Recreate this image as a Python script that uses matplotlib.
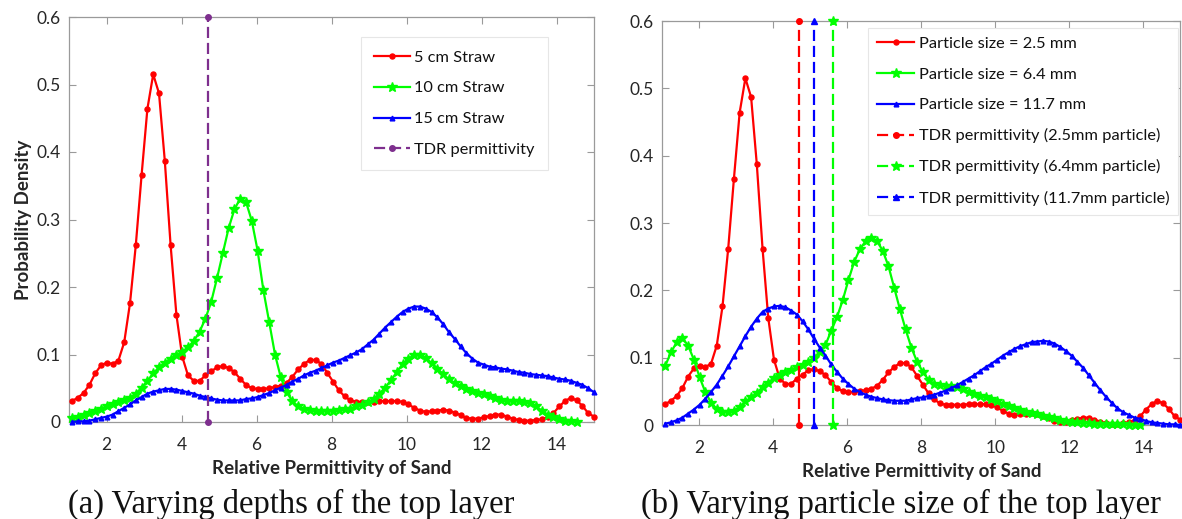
import numpy as np
import matplotlib
matplotlib.use("Agg")
import matplotlib.pyplot as plt

# ---------------- data ----------------
# sampling grid of relative permittivity (x axis), shared by all curves
perm = np.linspace(1.08, 15.0, 91)

# (a) varying depth of the straw top layer
pd_5cm = [0.031, 0.036, 0.043, 0.055, 0.072, 0.084, 0.088, 0.086, 0.091, 0.118,
          0.176, 0.262, 0.366, 0.464, 0.515, 0.487, 0.387, 0.262, 0.159, 0.097,
          0.069, 0.061, 0.061, 0.069, 0.075, 0.081, 0.083, 0.080, 0.074, 0.064,
          0.055, 0.050, 0.049, 0.049, 0.050, 0.052, 0.054, 0.058, 0.067, 0.078,
          0.086, 0.092, 0.092, 0.086, 0.073, 0.060, 0.047, 0.038, 0.032, 0.030,
          0.030, 0.030, 0.030, 0.031, 0.031, 0.031, 0.031, 0.030, 0.026, 0.021,
          0.017, 0.015, 0.016, 0.017, 0.018, 0.017, 0.014, 0.010, 0.006, 0.005,
          0.005, 0.007, 0.009, 0.011, 0.011, 0.008, 0.005, 0.003, 0.002, 0.002,
          0.003, 0.004, 0.007, 0.013, 0.023, 0.031, 0.036, 0.032, 0.024, 0.013,
          0.008]
pd_10cm = [0.006, 0.008, 0.011, 0.014, 0.017, 0.020, 0.023, 0.026, 0.029, 0.032,
           0.036, 0.042, 0.051, 0.061, 0.072, 0.081, 0.088, 0.094, 0.099, 0.104,
           0.111, 0.120, 0.134, 0.153, 0.178, 0.213, 0.250, 0.287, 0.315, 0.331,
           0.326, 0.298, 0.254, 0.195, 0.148, 0.100, 0.066, 0.044, 0.031, 0.023,
           0.019, 0.018, 0.017, 0.017, 0.017, 0.017, 0.018, 0.019, 0.020, 0.023,
           0.025, 0.029, 0.034, 0.042, 0.051, 0.062, 0.074, 0.086, 0.094, 0.099,
           0.099, 0.095, 0.087, 0.079, 0.071, 0.063, 0.058, 0.053, 0.049, 0.046,
           0.043, 0.041, 0.038, 0.035, 0.033, 0.031, 0.031, 0.031, 0.030, 0.028,
           0.023, 0.017, 0.011, 0.007, 0.004, 0.002, 0.001, 0.000]
pd_15cm = [0.000, 0.001, 0.001, 0.002, 0.004, 0.006, 0.008, 0.011, 0.016, 0.021,
           0.026, 0.032, 0.037, 0.042, 0.045, 0.047, 0.049, 0.049, 0.048, 0.046,
           0.044, 0.042, 0.039, 0.037, 0.035, 0.033, 0.032, 0.032, 0.032, 0.032,
           0.034, 0.035, 0.037, 0.040, 0.043, 0.047, 0.051, 0.055, 0.060, 0.064,
           0.069, 0.073, 0.076, 0.080, 0.084, 0.088, 0.091, 0.095, 0.099, 0.103,
           0.108, 0.115, 0.122, 0.131, 0.140, 0.148, 0.156, 0.163, 0.168, 0.171,
           0.171, 0.168, 0.163, 0.155, 0.145, 0.133, 0.123, 0.112, 0.102, 0.094,
           0.088, 0.085, 0.082, 0.081, 0.079, 0.078, 0.076, 0.074, 0.073, 0.071,
           0.070, 0.069, 0.068, 0.066, 0.064, 0.063, 0.061, 0.058, 0.055, 0.050,
           0.044]
tdr_a = 4.7

# (b) varying particle size of the top layer
pd_2p5mm = [0.031, 0.036, 0.043, 0.055, 0.072, 0.084, 0.088, 0.086, 0.091, 0.118,
            0.176, 0.262, 0.366, 0.464, 0.515, 0.487, 0.387, 0.262, 0.159, 0.097,
            0.069, 0.061, 0.061, 0.069, 0.075, 0.081, 0.083, 0.080, 0.074, 0.064,
            0.055, 0.050, 0.049, 0.049, 0.050, 0.052, 0.054, 0.058, 0.067, 0.078,
            0.086, 0.092, 0.092, 0.086, 0.073, 0.060, 0.047, 0.038, 0.032, 0.030,
            0.030, 0.030, 0.030, 0.031, 0.031, 0.031, 0.031, 0.030, 0.026, 0.021,
            0.017, 0.015, 0.016, 0.017, 0.018, 0.017, 0.014, 0.010, 0.006, 0.005,
            0.005, 0.007, 0.009, 0.011, 0.011, 0.008, 0.005, 0.003, 0.002, 0.002,
            0.003, 0.004, 0.007, 0.013, 0.023, 0.031, 0.036, 0.032, 0.024, 0.013,
            0.008]
pd_6p4mm = [0.088, 0.108, 0.123, 0.129, 0.118, 0.097, 0.071, 0.049, 0.033, 0.024,
            0.020, 0.019, 0.021, 0.027, 0.035, 0.041, 0.048, 0.056, 0.063, 0.070,
            0.075, 0.079, 0.082, 0.086, 0.089, 0.094, 0.100, 0.109, 0.119, 0.140,
            0.160, 0.185, 0.215, 0.242, 0.261, 0.273, 0.278, 0.273, 0.259, 0.236,
            0.204, 0.172, 0.142, 0.115, 0.094, 0.079, 0.067, 0.061, 0.059, 0.058,
            0.058, 0.056, 0.053, 0.049, 0.046, 0.043, 0.041, 0.038, 0.035, 0.031,
            0.028, 0.025, 0.022, 0.020, 0.018, 0.016, 0.014, 0.012, 0.010, 0.008,
            0.006, 0.005, 0.004, 0.003, 0.003, 0.002, 0.002, 0.001, 0.001, 0.001,
            0.001, 0.000, 0.000, 0.000]
pd_11p7mm = [0.002, 0.004, 0.007, 0.011, 0.017, 0.023, 0.030, 0.039, 0.049, 0.060,
             0.073, 0.087, 0.102, 0.117, 0.132, 0.146, 0.158, 0.168, 0.173, 0.176,
             0.177, 0.175, 0.170, 0.164, 0.154, 0.142, 0.128, 0.115, 0.103, 0.090,
             0.079, 0.069, 0.061, 0.054, 0.049, 0.045, 0.042, 0.040, 0.038, 0.037,
             0.036, 0.036, 0.036, 0.038, 0.040, 0.041, 0.043, 0.045, 0.048, 0.051,
             0.055, 0.059, 0.064, 0.069, 0.074, 0.080, 0.086, 0.091, 0.097, 0.103,
             0.108, 0.113, 0.117, 0.120, 0.123, 0.124, 0.125, 0.124, 0.121, 0.116,
             0.110, 0.103, 0.094, 0.085, 0.074, 0.063, 0.052, 0.042, 0.033, 0.025,
             0.019, 0.015, 0.011, 0.009, 0.006, 0.004, 0.003, 0.002, 0.001, 0.001,
             0.000]
tdr_2p5mm = 4.7
tdr_6p4mm = 5.6
tdr_11p7mm = 5.1

labels_a = ["5 cm Straw", "10 cm Straw", "15 cm Straw", "TDR permittivity"]
labels_b = ["Particle size = 2.5 mm", "Particle size = 6.4 mm", "Particle size = 11.7 mm",
            "TDR permittivity (2.5mm particle)", "TDR permittivity (6.4mm particle)",
            "TDR permittivity (11.7mm particle)"]
xticks = [2, 4, 6, 8, 10, 12, 14]
yticks = [0, 0.1, 0.2, 0.3, 0.4, 0.5, 0.6]
ytick_labels = ["0", "0.1", "0.2", "0.3", "0.4", "0.5", "0.6"]
xlabel = "Relative Permittivity of Sand"
ylabel = "Probability Density"
caption_a = "(a) Varying depths of the top layer"
caption_b = "(b) Varying particle size of the top layer"

# ---------------- style ----------------
plt.rcParams['font.family'] = ['Lato', 'DejaVu Sans']
RED, GREEN, BLUE, PURPLE = '#ff0000', '#00ff00', '#0000ff', '#7e2f8e'
SPINE = '#9a9a9a'
TXT = '#262626'

W, H = 1182, 519
fig = plt.figure(figsize=(W / 100, H / 100), dpi=100)
axA = fig.add_axes([69 / W, (H - 422) / H, 525 / W, 405 / H])
axB = fig.add_axes([662.3 / W, (H - 425) / H, 518 / W, 404 / H])

lw = 1.6
def curve(ax, y, color, marker, ms, label):
    n = len(y)
    ax.plot(perm[:n], y, color=color, lw=lw, marker=marker, ms=ms,
            mec=color, mfc=color, label=label, clip_on=False, zorder=3)

def tdr(ax, x, color, marker, ms, label):
    ax.plot([x, x], [0, 0.6], color=color, lw=lw, ls=(0, (5, 2.2)), marker=marker,
            ms=ms, mec=color, mfc=color, label=label, clip_on=False, zorder=4)

curve(axA, pd_5cm, RED, 'o', 3.6, labels_a[0])
curve(axA, pd_10cm, GREEN, '*', 7, labels_a[1])
curve(axA, pd_15cm, BLUE, '^', 3.4, labels_a[2])
tdr(axA, tdr_a, PURPLE, 'o', 4, labels_a[3])

curve(axB, pd_2p5mm, RED, 'o', 3.6, labels_b[0])
curve(axB, pd_6p4mm, GREEN, '*', 7, labels_b[1])
curve(axB, pd_11p7mm, BLUE, '^', 3.4, labels_b[2])
tdr(axB, tdr_2p5mm, RED, 'o', 4, labels_b[3])
tdr(axB, tdr_6p4mm, GREEN, '*', 7, labels_b[4])
tdr(axB, tdr_11p7mm, BLUE, '^', 4, labels_b[5])

for ax in (axA, axB):
    ax.set_xlim(1, 15)
    ax.set_ylim(0, 0.6)
    ax.set_xticks(xticks)
    ax.set_yticks(yticks)
    ax.set_yticklabels(ytick_labels)
    ax.tick_params(direction='in', top=True, right=True, length=5, width=0.8,
                   color=SPINE, labelcolor=TXT, labelsize=12.5)
    ax.tick_params(axis='x', pad=11)
    ax.tick_params(axis='y', pad=6)
    for s in ax.spines.values():
        s.set_color(SPINE)
        s.set_linewidth(0.9)
    ax.set_xlabel(xlabel, fontsize=13.5, fontweight='bold', color=TXT, labelpad=5)

axA.set_ylabel(ylabel, fontsize=13.5, fontweight='bold', color=TXT, labelpad=3)

legA = axA.legend(loc='upper left', bbox_to_anchor=((361 - 69) / 525, (422 - 37) / 405),
                  borderaxespad=0, fontsize=11.8, frameon=True, fancybox=False,
                  edgecolor='#e6e6e6', framealpha=1, handlelength=2.2, handletextpad=0.25,
                  labelspacing=1.0, borderpad=0.8, numpoints=1)
legB = axB.legend(loc='upper left', bbox_to_anchor=((867.7 - 662.3) / 518, (425 - 27.7) / 404),
                  borderaxespad=0, fontsize=11.8, frameon=True, fancybox=False,
                  edgecolor='#e6e6e6', framealpha=1, handlelength=2.3, handletextpad=0.25,
                  labelspacing=0.98, borderpad=0.55, numpoints=1)
for leg in (legA, legB):
    leg.get_frame().set_linewidth(0.8)
    for t in leg.get_texts():
        t.set_color('#111111')

fig.text(291 / W, 1 - 504 / H, caption_a, ha='center', va='center',
         fontsize=23.5, family=['Liberation Serif', 'DejaVu Serif'], color='#111111')
fig.text(900.6 / W, 1 - 504 / H, caption_b, ha='center', va='center',
         fontsize=23.5, family=['Liberation Serif', 'DejaVu Serif'], color='#111111')

fig.savefig('out.png', dpi=100)
